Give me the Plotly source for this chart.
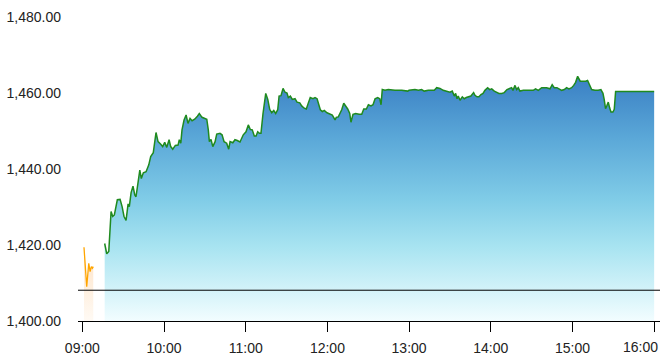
import pandas as pd
import plotly.graph_objects as go

# ---- data (minutes after 09:00, price) ----
pre_minutes = [1.2, 2.2, 3.2, 4.7, 5.7, 6.6, 7.4, 8.0]
pre_prices = [1419.4, 1415.2, 1409.0, 1415.2, 1413.0, 1414.3, 1413.9, 1414.3]

main_minutes = [
    16.4, 17.9, 19.4, 21.1, 22.3, 23.5, 25.7, 27.7, 29.2, 30.6, 32.1, 33.6, 34.5, 35.8,
    37.2, 38.5, 39.4, 40.7, 42.2, 43.3, 44.8, 46.8, 48.8, 50.2, 52.1, 54.1, 55.6, 57.6,
    59.0, 60.5, 62.0, 63.7, 64.9, 66.4, 68.3, 70.3, 71.2, 72.3, 73.2, 74.7, 76.2, 77.6,
    79.1, 80.6, 82.5, 84.5, 85.9, 87.9, 91.4, 92.5, 93.3, 94.5, 95.8, 97.5, 98.7, 101.1,
    102.6, 104.1, 106.0, 107.5, 108.5, 110.5, 112.1, 113.8, 115.8, 118.2, 120.2, 121.9,
    123.4, 124.8, 126.3, 127.6, 128.8, 130.0, 131.2, 132.7, 134.7, 136.2, 137.6, 139.1,
    140.6, 142.0, 143.5, 144.5, 145.9, 147.4, 148.9, 150.3, 151.3, 152.8, 154.2, 156.2,
    157.7, 159.7, 161.1, 163.0, 164.5, 166.0, 167.4, 169.4, 170.9, 172.4, 173.3, 174.8,
    176.3, 177.7, 179.7, 181.7, 183.6, 185.6, 186.5, 188.0, 189.5, 190.5, 192.0, 193.4,
    194.9, 196.4, 197.3, 198.8, 200.8, 203.2, 205.2, 206.7, 208.6, 210.1, 212.0, 213.5,
    215.0, 216.9, 218.4, 219.4, 220.3, 222.3, 224.7, 229.6, 234.6, 239.0, 239.9, 244.3,
    246.8, 249.2, 251.1, 254.1, 258.5, 260.3, 262.7, 265.1, 267.6, 270.0, 271.7, 273.2,
    274.2, 275.2, 276.1, 277.4, 279.1, 280.5, 282.0, 283.5, 285.4, 287.4, 288.4, 289.9,
    291.3, 292.8, 294.3, 295.7, 297.7, 299.2, 300.7, 302.6, 304.6, 306.0, 308.0, 309.9,
    311.9, 313.9, 315.3, 316.3, 317.8, 319.0, 320.2, 321.4, 323.9, 327.5, 331.2, 332.9,
    334.9, 337.4, 341.0, 343.5, 345.1, 346.6, 348.6, 350.1, 352.1, 354.0, 355.7, 357.4,
    359.4, 360.9, 362.3, 363.8, 364.8, 365.7, 367.7, 369.7, 371.1, 372.6, 374.1, 376.5,
    378.9, 380.9, 382.4, 383.3, 384.3, 385.3, 386.3, 387.3, 388.3, 389.7, 390.7, 391.7,
    396.1, 420.0,
]
main_prices = [
    1420.4, 1417.7, 1418.3, 1428.8, 1427.5, 1427.9, 1431.9, 1432.0, 1430.1, 1427.5, 1426.5, 1430.8, 1430.1, 1433.8,
    1435.5, 1433.2, 1432.7, 1435.8, 1439.7, 1437.5, 1439.0, 1439.3, 1441.1, 1443.3, 1444.3, 1449.6, 1447.2, 1446.5,
    1445.9, 1447.0, 1445.7, 1447.7, 1445.9, 1445.2, 1446.2, 1446.3, 1447.7, 1446.8, 1450.3, 1452.9, 1454.2, 1452.0,
    1453.3, 1452.7, 1453.1, 1453.9, 1454.6, 1453.6, 1453.1, 1450.3, 1447.2, 1447.8, 1445.9, 1447.2, 1449.2, 1449.4,
    1449.0, 1447.2, 1446.8, 1445.2, 1447.2, 1446.9, 1447.7, 1447.5, 1447.1, 1449.0, 1449.8, 1451.6,
    1450.4, 1450.3, 1448.7, 1448.7, 1449.8, 1449.4, 1449.4, 1454.6, 1459.9, 1458.3, 1455.7, 1454.8,
    1455.4, 1454.6, 1455.6, 1459.2, 1459.3, 1461.2, 1460.2, 1460.0, 1458.8, 1459.2, 1458.3, 1458.5,
    1457.6, 1457.4, 1456.6, 1456.0, 1455.8, 1457.4, 1458.8, 1458.5, 1458.8, 1458.5, 1457.4, 1455.6,
    1455.1, 1455.4, 1454.8, 1454.4, 1454.2, 1452.9, 1453.6, 1453.7, 1454.8, 1455.6, 1457.3, 1456.6,
    1455.8, 1454.6, 1452.3, 1454.4, 1454.6, 1454.4, 1454.4, 1455.8, 1455.8, 1456.9, 1456.6, 1456.9,
    1458.5, 1458.8, 1458.5, 1456.9, 1460.9, 1460.7, 1460.9, 1460.7, 1460.7, 1460.5, 1460.7, 1460.9,
    1460.7, 1460.9, 1460.5, 1460.7, 1460.7, 1461.4, 1461.2, 1460.7, 1460.5, 1460.2, 1460.5, 1459.2,
    1459.9, 1458.5, 1459.2, 1458.1, 1459.0, 1458.5, 1458.8, 1459.0, 1459.2, 1460.1, 1459.4, 1459.0,
    1459.0, 1459.6, 1459.9, 1460.7, 1461.4, 1460.9, 1461.1, 1460.5, 1460.1, 1459.9, 1459.9, 1460.1,
    1460.9, 1461.1, 1461.4, 1460.7, 1462.0, 1460.9, 1461.4, 1460.5, 1460.7, 1460.7, 1460.7, 1461.1,
    1460.7, 1461.4, 1461.4, 1461.1, 1462.2, 1461.4, 1461.4, 1461.1, 1460.7, 1460.9, 1461.4, 1461.1,
    1461.4, 1462.0, 1462.8, 1464.4, 1463.5, 1463.1, 1463.1, 1463.1, 1463.3, 1462.2, 1460.9, 1460.7,
    1460.7, 1460.9, 1459.9, 1458.3, 1455.9, 1456.7, 1457.6, 1456.1, 1455.0, 1455.0, 1455.7, 1460.4,
    1460.4, 1460.4,
]

prev_close = 1408.1
y_ticks = [1400, 1420, 1440, 1460, 1480]
x_tick_labels = ["09:00", "10:00", "11:00", "12:00", "13:00", "14:00", "15:00", "16:00"]

base = pd.Timestamp("2024-01-02 09:00:00")
pre_t = [base + pd.Timedelta(minutes=m) for m in pre_minutes]
main_t = [base + pd.Timedelta(minutes=m) for m in main_minutes]
tick_vals = [base + pd.Timedelta(hours=i) for i in range(len(x_tick_labels))]

fig = go.Figure()

fig.add_trace(go.Scatter(
    x=pre_t, y=pre_prices, mode="lines",
    line=dict(color="#FFA500", width=1.3),
    fill="tozeroy",
    fillgradient=dict(type="vertical", start=1400, stop=1420,
                      colorscale=[[0, "rgba(255,250,244,1)"], [1, "rgba(253,225,195,1)"]]),
    hoverinfo="skip", showlegend=False,
))

fig.add_trace(go.Scatter(
    x=main_t, y=main_prices, mode="lines",
    line=dict(color="#1f8a1f", width=1.5),
    fill="tozeroy",
    fillgradient=dict(type="vertical", start=1400, stop=1464,
                      colorscale=[[0, "#f2fdff"], [0.3, "#a9e4f1"], [0.5, "#80cce7"],
                                  [0.75, "#5ba8d8"], [1, "#3a80c4"]]),
    showlegend=False,
))

fig.add_shape(type="line", xref="paper", x0=0, x1=1, yref="y", y0=prev_close, y1=prev_close,
              line=dict(color="black", width=1), layer="above")

font = dict(family="Liberation Sans, Arial, sans-serif", size=14, color="#222")

# last tick label is pulled inside the chart edge, as in the reference
shown_text = x_tick_labels[:-1] + [""]
fig.add_annotation(x=tick_vals[-1], xref="x", y=0, yref="paper", yanchor="top",
                   xanchor="right", xshift=6, yshift=-16, text=x_tick_labels[-1],
                   showarrow=False, font=font)

fig.update_layout(
    width=667, height=364,
    margin=dict(l=78, r=7, t=17, b=43),
    plot_bgcolor="white", paper_bgcolor="white",
    font=font,
    xaxis=dict(
        range=[base - pd.Timedelta(minutes=3.2), base + pd.Timedelta(minutes=424.3)],
        tickvals=tick_vals, ticktext=shown_text,
        showgrid=False, zeroline=False,
        showline=True, linecolor="black", linewidth=1,
        ticks="outside", ticklen=10, tickcolor="black", tickwidth=1,
        ticklabelstandoff=4,
        tickfont=font,
    ),
    yaxis=dict(
        range=[1400, 1480],
        tickvals=y_ticks, tickformat=",.2f",
        showgrid=False, zeroline=False, showline=False,
        ticks="", ticklabelstandoff=16,
        tickfont=font,
    ),
)

fig.write_html("out.html")
